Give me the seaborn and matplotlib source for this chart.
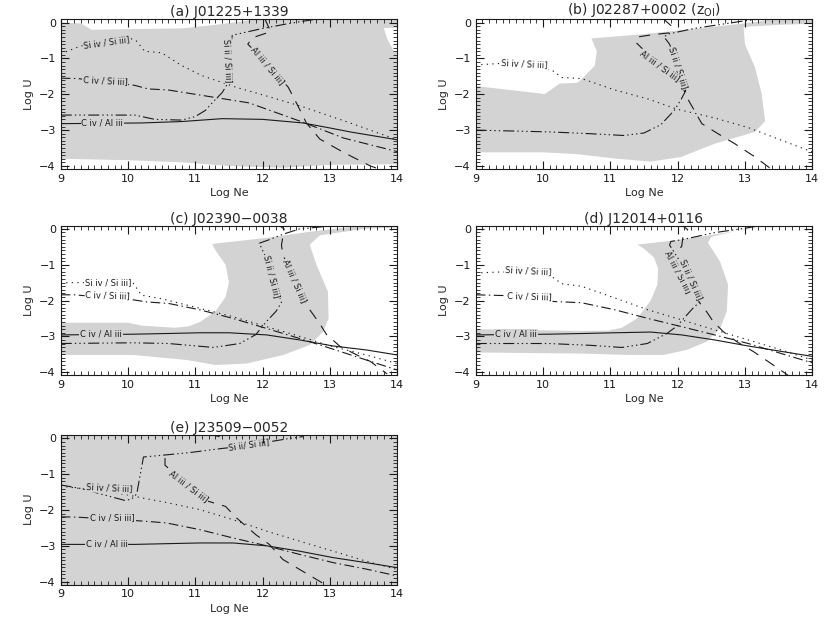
import matplotlib.pyplot as plt
import seaborn as sns
from matplotlib.ticker import MultipleLocator

sns.set_style('ticks')
plt.rcParams['font.family'] = ['DejaVu Sans']
plt.rcParams['lines.scale_dashes'] = False

SHADE = '#d3d3d3'
INK = '#1a1a1a'

# ---- (a) J01225+1339 ----
a_shade_ne = [9, 9.3, 9.46, 10.0, 10.8, 11.3, 11.76, 12.0, 14.2, 14.2, 13.8, 13.85, 13.95, 14.2,
              14.2, 13.0, 12.3, 11.5, 10.8, 10.0, 9.0]
a_shade_u = [0.0, -0.02, -0.2, -0.18, -0.16, -0.06, 0.05, 0.15, 0.15, -0.12, -0.15, -0.45, -0.8, -1.0,
             -3.95, -3.97, -4.05, -4.0, -3.9, -3.84, -3.8]
a_siiv_ne = [9, 9.3, 10.05, 10.12, 10.25, 10.5, 10.8, 11.1, 11.6, 12.1, 12.6, 13.3, 14]
a_siiv_u = [-0.87, -0.65, -0.45, -0.5, -0.8, -0.84, -1.2, -1.48, -1.8, -2.07, -2.35, -2.8, -3.27]
a_civsi_ne = [9, 9.25, 10.1, 10.3, 10.6, 11.0, 11.8, 12.6, 13.2, 14]
a_civsi_u = [-1.55, -1.56, -1.75, -1.85, -1.88, -2.0, -2.24, -2.78, -3.22, -3.6]
a_cival_ne = [9, 10.2, 10.8, 11.4, 12.0, 12.6, 13.0, 13.3, 14]
a_cival_u = [-2.82, -2.8, -2.76, -2.68, -2.7, -2.8, -2.94, -3.05, -3.27]
a_siii_ne = [9, 10.1, 10.4, 10.8, 11.0, 11.15, 11.27, 11.4, 11.48, 11.5, 11.55, 12.0, 12.4, 12.8]
a_siii_u = [-2.58, -2.58, -2.7, -2.72, -2.62, -2.45, -2.2, -1.95, -1.7, -0.9, -0.35, -0.16, -0.02, 0.1]
a_al_ne = [12.03, 12.12, 11.85, 11.78, 12.0, 12.38, 12.45, 12.55, 12.65, 12.85, 13.2, 13.6, 13.75]
a_al_u = [0.12, -0.25, -0.42, -0.6, -1.0, -1.8, -2.05, -2.42, -2.8, -3.25, -3.62, -4.0, -4.1]

# ---- (b) J02287+0002 ----
b_shade_ne = [9, 9.98, 10.02, 10.25, 10.5, 10.55, 10.77, 10.8, 10.72, 11.5, 12.1, 12.6, 13.0, 13.5, 14.2,
              14.2, 13.5, 12.98, 13.0, 13.15, 13.25, 13.3, 13.15, 12.55, 12.05, 11.6, 11.1, 10.5, 10.0, 9.0]
b_shade_u = [-1.77, -1.98, -2.0, -1.70, -1.68, -1.62, -1.2, -0.8, -0.44, -0.32, -0.2, -0.1, -0.02, 0.12, 0.12,
             -0.02, -0.06, -0.12, -0.6, -1.25, -2.0, -2.75, -3.05, -3.38, -3.75, -3.88, -3.8, -3.67, -3.62, -3.62]
b_siiv_ne = [9, 9.35, 10.13, 10.28, 10.57, 11.07, 11.56, 12.0, 12.55, 13.05, 13.54, 14]
b_siiv_u = [-1.18, -1.14, -1.32, -1.53, -1.56, -1.88, -2.13, -2.42, -2.66, -2.93, -3.28, -3.61]
b_siii_ne = [9, 10.1, 10.7, 11.2, 11.5, 11.75, 11.95, 12.05, 12.12, 12.0, 11.88, 11.8, 11.85, 12.25, 12.6,
             12.95, 13.3]
b_siii_u = [-3.0, -3.05, -3.1, -3.15, -3.08, -2.85, -2.45, -2.15, -1.9, -1.2, -0.6, -0.4, -0.32, -0.16, -0.06,
            0.04, 0.12]
b_al_ne = [11.78, 11.9, 11.9, 11.65, 11.4, 11.38, 11.6, 12.06, 12.16, 12.36, 12.6, 12.85, 13.15, 13.4]
b_al_u = [0.12, -0.08, -0.28, -0.33, -0.4, -0.55, -0.95, -1.75, -2.16, -2.82, -3.1, -3.38, -3.75, -4.1]

# ---- (c) J02390-0038 ----
c_shade_ne = [9, 10.0, 10.2, 10.7, 10.9, 11.07, 11.3, 11.45, 11.5, 11.45, 11.3, 11.25, 12.06, 12.7, 13.3,
              13.74, 14.2, 14.2, 13.5, 12.85, 12.7, 12.8, 12.97, 12.98, 12.9, 12.7, 12.31, 11.76, 11.3, 10.87,
              10.08, 9.0]
c_shade_u = [-2.62, -2.62, -2.7, -2.76, -2.72, -2.6, -2.3, -1.9, -1.5, -1.0, -0.6, -0.42, -0.25, -0.08, 0.05,
             0.12, 0.12, 0.06, 0.0, -0.18, -0.44, -1.0, -1.75, -2.5, -2.87, -3.24, -3.52, -3.76, -3.8, -3.66,
             -3.52, -3.52]
c_siiv_ne = [9, 9.3, 10.08, 10.2, 10.5, 11.07, 11.56, 12.06, 12.55, 13.05, 13.54, 14]
c_siiv_u = [-1.5, -1.5, -1.52, -1.85, -1.95, -2.22, -2.45, -2.73, -3.0, -3.29, -3.52, -3.76]
c_civsi_ne = [9, 9.2, 10.08, 10.28, 10.6, 11.07, 11.56, 12.06, 12.55, 13.05, 13.54, 14]
c_civsi_u = [-1.84, -1.84, -1.98, -2.04, -2.08, -2.26, -2.5, -2.78, -3.06, -3.36, -3.66, -3.94]
c_cival_ne = [9, 10.08, 10.6, 11.07, 11.5, 12.06, 12.55, 13.05, 13.54, 14]
c_cival_u = [-2.96, -2.94, -2.92, -2.9, -2.9, -2.96, -3.1, -3.27, -3.38, -3.52]
c_siii_ne = [9, 10.08, 10.6, 11.27, 11.66, 11.9, 12.05, 12.2, 12.28, 12.1, 12.0, 11.95, 12.1, 12.3, 12.55,
             13.0, 13.3]
c_siii_u = [-3.2, -3.18, -3.2, -3.31, -3.2, -2.95, -2.6, -2.3, -2.05, -1.0, -0.6, -0.4, -0.3, -0.15, 0.0,
            0.08, 0.12]
c_al_ne = [12.2, 12.32, 12.28, 12.3, 12.48, 12.66, 12.85, 12.95, 13.15, 13.4, 13.6, 13.85]
c_al_u = [0.15, 0.0, -0.45, -0.72, -1.45, -2.15, -2.65, -2.95, -3.28, -3.52, -3.7, -4.05]

# ---- (d) J12014+0116 ----
d_shade_ne = [9, 10.57, 10.97, 11.17, 11.4, 11.6, 11.7, 11.71, 11.65, 11.5, 11.4, 12.04, 12.53, 13.0, 13.5,
              14.2, 14.2, 13.5, 13.0, 12.5, 12.45, 12.63, 12.75, 12.73, 12.63, 12.43, 12.13, 11.79, 11.29,
              10.55, 9]
d_shade_u = [-2.8, -2.85, -2.84, -2.76, -2.5, -2.0, -1.55, -1.1, -0.8, -0.55, -0.44, -0.3, -0.16, -0.02, 0.08,
             0.12, 0.08, 0.06, 0.0, -0.22, -0.39, -0.91, -1.56, -2.31, -2.78, -3.15, -3.38, -3.52, -3.52,
             -3.48, -3.45]
d_siiv_ne = [9, 9.4, 10.13, 10.28, 10.57, 11.07, 11.56, 12.06, 12.55, 13.05, 13.54, 14]
d_siiv_u = [-1.23, -1.2, -1.33, -1.53, -1.6, -1.93, -2.26, -2.54, -2.82, -3.1, -3.38, -3.66]
d_civsi_ne = [9, 9.4, 10.18, 10.57, 11.07, 11.56, 12.06, 12.55, 13.05, 13.54, 14]
d_civsi_u = [-1.84, -1.86, -2.03, -2.06, -2.26, -2.5, -2.73, -2.96, -3.2, -3.48, -3.74]
d_cival_ne = [9, 10.08, 10.6, 11.07, 11.6, 12.06, 12.55, 13.05, 13.54, 14]
d_cival_u = [-2.96, -2.94, -2.92, -2.9, -2.88, -2.96, -3.1, -3.27, -3.42, -3.56]
d_siii_ne = [9, 10.08, 10.7, 11.17, 11.55, 11.84, 12.0, 12.09, 12.23, 12.35, 12.15, 12.0, 11.88, 11.9,
             12.07, 12.53, 13.0, 13.32]
d_siii_u = [-3.2, -3.2, -3.25, -3.31, -3.2, -2.92, -2.7, -2.5, -2.21, -2.0, -1.3, -0.8, -0.45, -0.35,
            -0.3, -0.11, 0.02, 0.12]
d_al_ne = [12.03, 12.15, 12.08, 12.06, 11.82, 12.05, 12.26, 12.43, 12.53, 12.68, 12.88, 13.13, 13.42, 13.65]
d_al_u = [0.15, -0.02, -0.2, -0.5, -0.68, -1.25, -1.9, -2.31, -2.59, -2.87, -3.15, -3.43, -3.8, -4.1]

# ---- (e) J23509-0052 ----
e_shade_ne = [8.9, 14.1, 14.1, 8.9]
e_shade_u = [0.2, 0.2, -4.2, -4.2]
e_siiv_ne = [9, 9.5, 10.0, 10.23, 10.57, 11.07, 11.56, 12.06, 12.55, 13.05, 13.54, 14]
e_siiv_u = [-1.33, -1.45, -1.58, -1.67, -1.79, -1.99, -2.27, -2.59, -2.87, -3.15, -3.43, -3.66]
e_civsi_ne = [9, 9.25, 10.23, 10.57, 11.07, 11.56, 12.06, 12.55, 13.05, 13.54, 14]
e_civsi_u = [-2.19, -2.2, -2.31, -2.36, -2.55, -2.78, -3.0, -3.24, -3.47, -3.65, -3.84]
e_cival_ne = [9, 10.1, 10.57, 11.07, 11.56, 12.06, 12.55, 13.05, 13.54, 14]
e_cival_u = [-2.96, -2.96, -2.94, -2.92, -2.92, -3.0, -3.15, -3.33, -3.47, -3.61]
e_siii_ne = [9, 9.3, 9.65, 9.95, 10.05, 10.13, 10.23, 10.4, 10.9, 11.4, 11.8, 12.15, 12.4, 12.6]
e_siii_u = [-1.3, -1.4, -1.58, -1.73, -1.7, -1.55, -0.52, -0.49, -0.4, -0.28, -0.2, -0.08, 0.0, 0.05]
e_altop_ne = [11.2, 11.4]
e_altop_u = [0.12, 0.03]
e_al_ne = [10.55, 10.55, 10.9, 11.2, 11.45, 11.6, 11.9, 12.1, 12.3, 12.55, 12.9]
e_al_u = [-0.55, -0.75, -1.32, -1.76, -1.9, -2.2, -2.69, -2.96, -3.38, -3.66, -4.05]

STYLES = {
    'siiv': (0, (0.9, 3.1)),
    'civsi': (0, (7, 2.5, 1, 2.5)),
    'cival': '-',
    'siii': (0, (8, 2.2, 1, 2.2, 1, 2.2, 1, 2.2)),
    'al': (0, (8, 6)),
}


def draw_panel(ax, title, shade_ne, shade_u, curves, labels):
    ax.fill(shade_ne, shade_u, color=SHADE, lw=0, zorder=0.1)
    for ne, u, key in curves:
        sns.lineplot(x=ne, y=u, sort=False, estimator=None, ax=ax, color=INK,
                     lw=0.8, linestyle=STYLES[key], zorder=2)
    for text, x, y, rot, bg in labels:
        ax.text(x, y, text, fontsize=6, rotation=rot, ha='center', va='center',
                rotation_mode='anchor', color=INK, zorder=3,
                bbox=dict(fc=bg, ec='none', pad=0.6))
    ax.set_xlim(9, 14)
    ax.set_ylim(-4.08, 0.095)
    ax.set_xticks(range(9, 15))
    ax.set_yticks([0, -1, -2, -3, -4])
    ax.xaxis.set_minor_locator(MultipleLocator(0.1))
    ax.yaxis.set_minor_locator(MultipleLocator(0.1))
    ax.set_axisbelow(False)
    for axis in (ax.xaxis, ax.yaxis):
        axis.set_zorder(4)
    ax.tick_params(which='both', direction='in', bottom=True, left=True, top=True, right=True,
                   labelsize=8, color=INK, labelcolor=INK)
    ax.tick_params(which='major', length=6, width=0.8)
    ax.tick_params(which='minor', length=3, width=0.6)
    for s in ax.spines.values():
        s.set_linewidth(0.8)
        s.set_color(INK)
        s.set_zorder(5)
    ax.set_xlabel('Log Ne', fontsize=8, labelpad=3)
    ax.set_ylabel('Log U', fontsize=8, labelpad=4)
    ax.set_title(title, fontsize=10, pad=2)


fig = plt.figure(figsize=(8.3, 6.24), dpi=100)
W, H = 0.4055, 0.2396
ax_a = fig.add_axes([0.0731, 0.7295, W, H])
ax_b = fig.add_axes([0.5731, 0.7295, W, H])
ax_c = fig.add_axes([0.0731, 0.3990, W, H])
ax_d = fig.add_axes([0.5731, 0.3990, W, H])
ax_e = fig.add_axes([0.0731, 0.0633, W, H])

draw_panel(ax_a, '(a) J01225+1339', a_shade_ne, a_shade_u,
           [(a_siiv_ne, a_siiv_u, 'siiv'), (a_civsi_ne, a_civsi_u, 'civsi'),
            (a_cival_ne, a_cival_u, 'cival'), (a_siii_ne, a_siii_u, 'siii'),
            (a_al_ne, a_al_u, 'al')],
           [('Si iv / Si iii]', 9.68, -0.54, 8, SHADE),
            ('C iv / Si iii]', 9.66, -1.63, -3, SHADE),
            ('C iv / Al iii', 9.62, -2.81, 0, SHADE),
            ('Si ii / Si iii]', 11.48, -1.05, -87, SHADE),
            ('Al iii / Si iii]', 12.07, -1.2, -50, SHADE)])

draw_panel(ax_b, '(b) J02287+0002 (z$_{\\mathrm{OI}}$)', b_shade_ne, b_shade_u,
           [(b_siiv_ne, b_siiv_u, 'siiv'), (b_siii_ne, b_siii_u, 'siii'),
            (b_al_ne, b_al_u, 'al')],
           [('Si iv / Si iii]', 9.73, -1.15, -3, 'white'),
            ('Si ii / Si iii]', 12.0, -1.27, -72, SHADE),
            ('Al iii / Si iii]', 11.73, -1.22, -36, SHADE)])

draw_panel(ax_c, '(c) J02390\u22120038', c_shade_ne, c_shade_u,
           [(c_siiv_ne, c_siiv_u, 'siiv'), (c_civsi_ne, c_civsi_u, 'civsi'),
            (c_cival_ne, c_cival_u, 'cival'), (c_siii_ne, c_siii_u, 'siii'),
            (c_al_ne, c_al_u, 'al')],
           [('Si iv / Si iii]', 9.7, -1.51, 0, 'white'),
            ('C iv / Si iii]', 9.7, -1.87, -2, 'white'),
            ('C iv / Al iii', 9.6, -2.94, 0, SHADE),
            ('Si ii / Si iii]', 12.14, -1.33, -76, SHADE),
            ('Al iii / Si iii]', 12.48, -1.45, -66, SHADE)])

draw_panel(ax_d, '(d) J12014+0116', d_shade_ne, d_shade_u,
           [(d_siiv_ne, d_siiv_u, 'siiv'), (d_civsi_ne, d_civsi_u, 'civsi'),
            (d_cival_ne, d_cival_u, 'cival'), (d_siii_ne, d_siii_u, 'siii'),
            (d_al_ne, d_al_u, 'al')],
           [('Si iv / Si iii]', 9.78, -1.16, -3, 'white'),
            ('C iv / Si iii]', 9.8, -1.89, -2, 'white'),
            ('C iv / Al iii', 9.6, -2.94, 0, SHADE),
            ('Al iii / Si iii]', 12.0, -1.2, -62, SHADE),
            ('Si ii / Si iii]', 12.2, -1.42, -66, SHADE)])

draw_panel(ax_e, '(e) J23509\u22120052', e_shade_ne, e_shade_u,
           [(e_siiv_ne, e_siiv_u, 'siiv'), (e_civsi_ne, e_civsi_u, 'civsi'),
            (e_cival_ne, e_cival_u, 'cival'), (e_siii_ne, e_siii_u, 'siii'),
            (e_altop_ne, e_altop_u, 'al'), (e_al_ne, e_al_u, 'al')],
           [('Si iv / Si iii]', 9.73, -1.39, -3, SHADE),
            ('C iv / Si iii]', 9.77, -2.22, 0, SHADE),
            ('C iv / Al iii', 9.68, -2.96, 0, SHADE),
            ('Si ii/ Si iii]', 11.8, -0.19, 8, SHADE),
            ('Al iii / Si iii]', 10.9, -1.35, -37, SHADE)])

fig.savefig('out.png', dpi=100)
